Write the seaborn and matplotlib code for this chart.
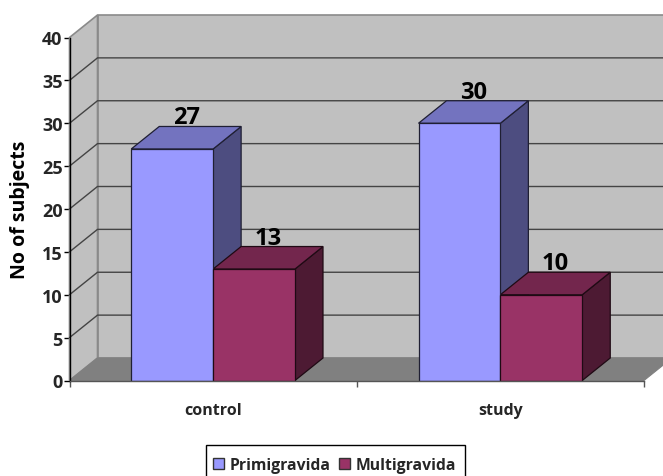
import matplotlib
matplotlib.use("Agg")
import matplotlib.pyplot as plt
from matplotlib.colors import to_rgb
from matplotlib.patches import Patch, Polygon, Rectangle
import pandas as pd
import seaborn as sns

groups = ["control", "study"]
series_names = ["Primigravida", "Multigravida"]
primigravida = [27, 30]
multigravida = [13, 10]
y_ticks = [0, 5, 10, 15, 20, 25, 30, 35, 40]
series_colors = ["#9999FF", "#993366"]

FONT = "Open Sans"
W, H = 663, 477
LEFT, RIGHT, TOP, BOTTOM = 69.5, 644.0, 38.5, 381.5
DEPTH_X_PX, DEPTH_Y_PX = 28.0, 22.5
WALL, FLOOR, WALL_EDGE, GRID = "#C0C0C0", "#808080", "#8A8A8A", "#444444"

sns.set_style("white")
plt.rcParams["font.family"] = [FONT, "DejaVu Sans"]
plt.rcParams["font.weight"] = "bold"

df = pd.DataFrame({
    "group": groups * 2,
    "count": primigravida + multigravida,
    "series": [series_names[0]] * 2 + [series_names[1]] * 2,
})

fig = plt.figure(figsize=(W / 100, H / 100), dpi=100)
ax = fig.add_axes([LEFT / W, 1 - BOTTOM / H, (RIGHT - LEFT) / W, (BOTTOM - TOP) / H])

sns.barplot(
    data=df, x="group", y="count", hue="series", hue_order=series_names,
    order=groups, palette=series_colors, width=0.57, gap=0, saturation=1,
    edgecolor="#1a1a40", linewidth=0.9, legend=False, zorder=5, ax=ax,
)

x0, x1, y_top = -0.5, 1.5, 40
ax.set_xlim(x0, x1)
ax.set_ylim(0, y_top)
dx = DEPTH_X_PX / ((RIGHT - LEFT) / (x1 - x0))
dy = DEPTH_Y_PX / ((BOTTOM - TOP) / y_top)


def face(points, color, edge, lw=0.9, z=1):
    ax.add_patch(Polygon(points, closed=True, facecolor=color, edgecolor=edge,
                         linewidth=lw, zorder=z, clip_on=False))


# Box walls and floor behind the bars
face([(x0 + dx, dy), (x1 + dx, dy), (x1 + dx, y_top + dy), (x0 + dx, y_top + dy)], WALL, WALL_EDGE, 1.2, 1)
face([(x0, 0), (x0 + dx, dy), (x0 + dx, y_top + dy), (x0, y_top)], WALL, WALL_EDGE, 1.2, 1)
face([(x0, 0), (x1, 0), (x1 + dx, dy), (x0 + dx, dy)], FLOOR, FLOOR, 0.8, 1.5)
for y in y_ticks[1:-1]:
    ax.plot([x0, x0 + dx, x1 + dx], [y, y + dy, y + dy], color=GRID, lw=1.0,
            zorder=1.2, clip_on=False, solid_joinstyle="miter")

# Side and top faces of each bar, shaded from the series colour
for container, color in zip(ax.containers, series_colors):
    rgb = to_rgb(color)
    top_c = tuple(c * 0.75 for c in rgb)
    side_c = tuple(c * 0.5 for c in rgb)
    edge = tuple(c * 0.2 for c in rgb)
    for bar in container:
        bar.set_edgecolor(edge)
        left, right, h = bar.get_x(), bar.get_x() + bar.get_width(), bar.get_height()
        face([(right, 0), (right + dx, dy), (right + dx, h + dy), (right, h)], side_c, edge, 0.9, 3)
        face([(left, h), (right, h), (right + dx, h + dy), (left + dx, h + dy)], top_c, edge, 0.9, 3)
        ax.annotate(f"{h:.0f}", xy=((left + right) / 2 + dx / 2, h + dy), xytext=(0, 9),
                    textcoords="offset pixels", ha="center", va="center",
                    fontsize=17, fontweight="bold", color="black", zorder=8,
                    annotation_clip=False)

# Axes: value ticks on the left, category dividers below
for name in ("top", "right"):
    ax.spines[name].set_visible(False)
ax.spines["left"].set_color("black")
ax.spines["left"].set_linewidth(1.0)
ax.spines["left"].set_zorder(7)
ax.spines["bottom"].set_color("#555555")
ax.spines["bottom"].set_linewidth(1.0)
ax.spines["bottom"].set_zorder(7)
ax.set_yticks(y_ticks)
ax.tick_params(axis="y", left=True, length=4, width=1.0, color="black", pad=1, labelsize=13)
ax.set_xticks([x0, 0.5, x1])
ax.set_xticklabels([])
ax.set_xticks([0, 1], labels=groups, minor=True)
ax.tick_params(axis="x", which="major", bottom=True, length=4, width=1.0, color="#555555")
ax.tick_params(axis="x", which="minor", bottom=False, length=0, pad=15.5, labelsize=11.5)
ax.set_xlabel("")
ax.set_ylabel("")
fig.text(20.5 / W, 1 - 210 / H, "No of subjects", rotation=90, ha="center", va="center",
         fontsize=14, fontweight="bold", color="black")

# Legend box runs off the lower edge of the figure
fig.add_artist(Rectangle((206 / W, 1 - 490 / H), 259 / W, 44 / H, transform=fig.transFigure,
                         facecolor="white", edgecolor="black", linewidth=1.0))
handles = [Patch(facecolor=c, edgecolor="#333333", linewidth=1.0, label=n)
           for c, n in zip(series_colors, series_names)]
fig.legend(
    handles=handles, loc="upper left", bbox_to_anchor=(204 / W, 1 - 449 / H),
    bbox_transform=fig.transFigure, ncol=2, frameon=False,
    handlelength=0.7, handleheight=0.7, handletextpad=0.4, columnspacing=0.5,
    borderpad=0.55, borderaxespad=0,
    prop={"family": FONT, "weight": "bold", "size": 11.3},
)

fig.savefig("out.png", dpi=100)
